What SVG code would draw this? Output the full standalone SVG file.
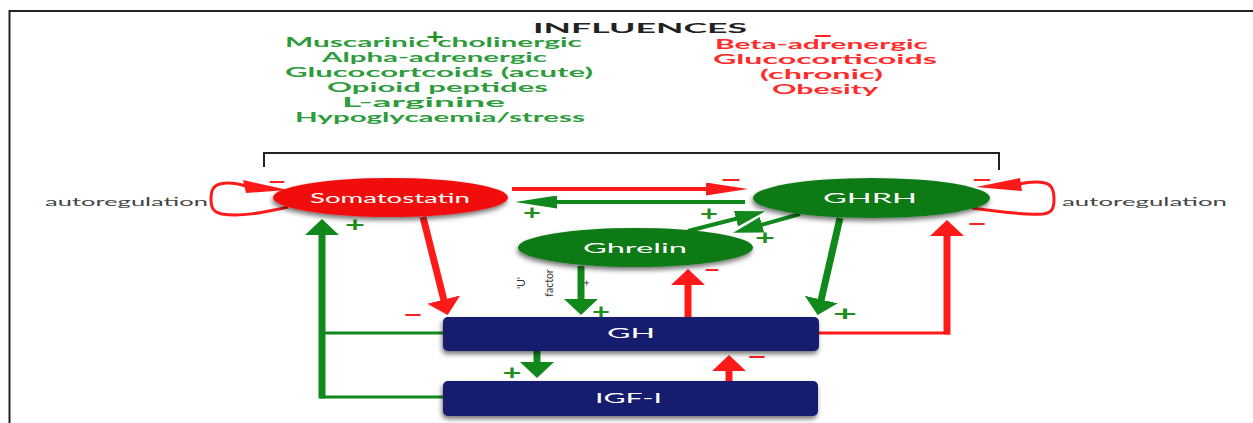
<svg xmlns="http://www.w3.org/2000/svg" width="1253" height="423" viewBox="0 0 1253 423">
<style>
.t{font-family:Lato,"Liberation Sans",sans-serif}
.g{fill:#2e9c3c;font-size:12.5px;font-weight:700}
.r{fill:#ff2b2b;font-size:12.5px;font-weight:700}
.ttl{fill:#222;font-size:13px;font-weight:700}
.lbl{fill:#ffffff;font-size:13.5px}
.auto{fill:#454545;font-size:12px}
.sg{fill:#1f8f1f;font-size:20px;font-weight:700;dominant-baseline:central;text-anchor:middle}
.sr{fill:#ff2020;font-size:20px;font-weight:700;dominant-baseline:central;text-anchor:middle}
.uf{fill:#333;font-size:10.5px;text-anchor:middle;dominant-baseline:central}
.lr{stroke:#ff1a1a;fill:none}
.lg{stroke:#11881b;fill:none}
.w7{stroke-width:7}
.w4{stroke-width:4}
.w3{stroke-width:3}
</style>
<defs>
<filter id="sh" x="-20%" y="-40%" width="140%" height="180%">
<feDropShadow dx="-1" dy="3" stdDeviation="2.5" flood-color="#000" flood-opacity="0.55"/>
</filter>
<marker id="rl" markerUnits="userSpaceOnUse" viewBox="0 0 42 13" markerWidth="42" markerHeight="13" refX="1" refY="6.5" orient="auto"><path d="M0,0 L42,6.5 L0,13 z" fill="#ff1a1a"/></marker>
<marker id="gl" markerUnits="userSpaceOnUse" viewBox="0 0 42 13" markerWidth="42" markerHeight="13" refX="1" refY="6.5" orient="auto"><path d="M0,0 L42,6.5 L0,13 z" fill="#11881b"/></marker>
<marker id="gm" markerUnits="userSpaceOnUse" viewBox="0 0 30 16" markerWidth="30" markerHeight="16" refX="1" refY="8" orient="auto"><path d="M0,0 L30,8 L0,16 z" fill="#11881b"/></marker>
<marker id="rb" markerUnits="userSpaceOnUse" viewBox="0 0 16 34" markerWidth="16" markerHeight="34" refX="1" refY="17" orient="auto"><path d="M0,0 L16,17 L0,34 z" fill="#ff1a1a"/></marker>
<marker id="gb" markerUnits="userSpaceOnUse" viewBox="0 0 16 34" markerWidth="16" markerHeight="34" refX="1" refY="17" orient="auto"><path d="M0,0 L16,17 L0,34 z" fill="#11881b"/></marker>
</defs>
<rect width="1253" height="423" fill="#ffffff"/>
<g id="frame" stroke="#222" fill="none">
<path d="M9.5,423 V11 H1253" stroke-width="2"/>
<path d="M264,167 V153 H999 V170" stroke-width="2"/>
</g>
<g id="influences" class="t">
<text class="ttl" x="533" y="33" textLength="214" lengthAdjust="spacingAndGlyphs">INFLUENCES</text>
<text class="g" x="285" y="47" textLength="297" lengthAdjust="spacingAndGlyphs">Muscarinic cholinergic</text>
<text class="g" x="322" y="62" textLength="225" lengthAdjust="spacingAndGlyphs">Alpha-adrenergic</text>
<text class="g" x="285" y="77" textLength="308" lengthAdjust="spacingAndGlyphs">Glucocortcoids (acute)</text>
<text class="g" x="327" y="92" textLength="221" lengthAdjust="spacingAndGlyphs">Opioid peptides</text>
<text class="g" x="342" y="107" textLength="163" lengthAdjust="spacingAndGlyphs">L-arginine</text>
<text class="g" x="295" y="122" textLength="290" lengthAdjust="spacingAndGlyphs">Hypoglycaemia/stress</text>
<text class="r" x="715" y="49" textLength="213" lengthAdjust="spacingAndGlyphs">Beta-adrenergic</text>
<text class="r" x="713" y="64" textLength="224" lengthAdjust="spacingAndGlyphs">Glucocorticoids</text>
<text class="r" x="760" y="79" textLength="123" lengthAdjust="spacingAndGlyphs">(chronic)</text>
<text class="r" x="772" y="94" textLength="106" lengthAdjust="spacingAndGlyphs">Obesity</text>
<text class="sg" x="435" y="36" textLength="18" lengthAdjust="spacingAndGlyphs">+</text>
<text class="sr" x="823" y="35" textLength="20" lengthAdjust="spacingAndGlyphs">−</text>
</g>
<g id="connectors">
<path class="lr w4" d="M512,189 H707" marker-end="url(#rl)"/>
<path class="lg w4" d="M745,202 H556" marker-end="url(#gl)"/>
<path class="lg w4" d="M688,231 L737,218.5" marker-end="url(#gm)"/>
<path class="lg w4" d="M800,214 L761,225" marker-end="url(#gm)"/>
<path class="lr w3" d="M288,207 C262,213 240,217 222,214 C212,212 211,206 211,200 C211,192 212,186 220,184 C228,182 236,183 246,186"/>
<polygon points="288,190 243,180 246,193" fill="#ff1a1a"/>
<path class="lr w3" d="M972,208 C1000,212 1025,215 1043,214 C1052,213 1054,208 1054,200 C1054,192 1053,185 1045,183 C1037,181 1028,182 1019,184"/>
<polygon points="976,187 1020,178 1022,191" fill="#ff1a1a"/>
<path class="lr w7" d="M423,217 L444,300.5" marker-end="url(#rb)"/>
<path class="lg w7" d="M840,218 L821,300.5" marker-end="url(#gb)"/>
<path class="lg w7" d="M581,266 V300" marker-end="url(#gb)"/>
<path class="lr w7" d="M688,317 V284" marker-end="url(#rb)"/>
<path class="lg w7" d="M537,351 V363" marker-end="url(#gb)"/>
<path class="lr w7" d="M729,381 V370" marker-end="url(#rb)"/>
<path class="lg w3" d="M443,333 H320 M443,397 H320"/>
<path class="lg w7" d="M322,398.5 V234" marker-end="url(#gb)"/>
<path class="lr w3" d="M819,333 H950"/>
<path class="lr w7" d="M947,334.5 V235" marker-end="url(#rb)"/>
</g>
<g id="signs" class="t">
<text class="sr" x="731" y="179" textLength="22" lengthAdjust="spacingAndGlyphs">−</text>
<text class="sg" x="532" y="212" textLength="18" lengthAdjust="spacingAndGlyphs">+</text>
<text class="sr" x="277" y="181" textLength="19" lengthAdjust="spacingAndGlyphs">−</text>
<text class="sr" x="982" y="179" textLength="21" lengthAdjust="spacingAndGlyphs">−</text>
<text class="sr" x="977" y="223" textLength="20" lengthAdjust="spacingAndGlyphs">−</text>
<text class="sg" x="355" y="224" textLength="20" lengthAdjust="spacingAndGlyphs">+</text>
<text class="sg" x="709" y="213" textLength="18" lengthAdjust="spacingAndGlyphs">+</text>
<text class="sg" x="765" y="237" textLength="20" lengthAdjust="spacingAndGlyphs">+</text>
<text class="sr" x="712" y="269" textLength="16" lengthAdjust="spacingAndGlyphs">−</text>
<text class="sr" x="413" y="314" textLength="20" lengthAdjust="spacingAndGlyphs">−</text>
<text class="sg" x="601" y="311" textLength="18" lengthAdjust="spacingAndGlyphs">+</text>
<text class="sg" x="845" y="313" textLength="24" lengthAdjust="spacingAndGlyphs">+</text>
<text class="sg" x="512" y="372" textLength="19" lengthAdjust="spacingAndGlyphs">+</text>
<text class="sr" x="757" y="356" textLength="20" lengthAdjust="spacingAndGlyphs">−</text>
<text class="uf" transform="translate(521,283) rotate(-90)">'U'</text>
<text class="uf" transform="translate(549,283) rotate(-90)">factor</text>
<text class="uf" transform="translate(586,283) rotate(-90)">+</text>
</g>
<g id="somatostatin">
<ellipse cx="390.5" cy="197.5" rx="117.5" ry="19.5" fill="#f20d0d" filter="url(#sh)"/>
<text class="t lbl" x="310" y="203" textLength="160" lengthAdjust="spacingAndGlyphs">Somatostatin</text>
</g>
<g id="ghrh">
<ellipse cx="871.5" cy="198" rx="118.5" ry="20" fill="#0c7a16" filter="url(#sh)"/>
<text class="t lbl" x="823" y="203" textLength="94" lengthAdjust="spacingAndGlyphs">GHRH</text>
</g>
<g id="ghrelin">
<ellipse cx="635.5" cy="247.5" rx="117.5" ry="19.5" fill="#0c7a16" filter="url(#sh)"/>
<text class="t lbl" x="583" y="253" textLength="104" lengthAdjust="spacingAndGlyphs">Ghrelin</text>
</g>
<g id="gh">
<rect x="443" y="317" width="376" height="34" rx="5" fill="#131a6e" filter="url(#sh)"/>
<text class="t lbl" x="607" y="338" textLength="48" lengthAdjust="spacingAndGlyphs">GH</text>
</g>
<g id="igf1">
<rect x="443" y="381" width="375" height="35" rx="5" fill="#131a6e" filter="url(#sh)"/>
<text class="t lbl" x="595" y="403" textLength="67" lengthAdjust="spacingAndGlyphs">IGF-I</text>
</g>
<g id="autoregulation" class="t">
<text class="auto" x="45" y="206" textLength="163" lengthAdjust="spacingAndGlyphs">autoregulation</text>
<text class="auto" x="1062" y="206" textLength="165" lengthAdjust="spacingAndGlyphs">autoregulation</text>
</g>
</svg>
